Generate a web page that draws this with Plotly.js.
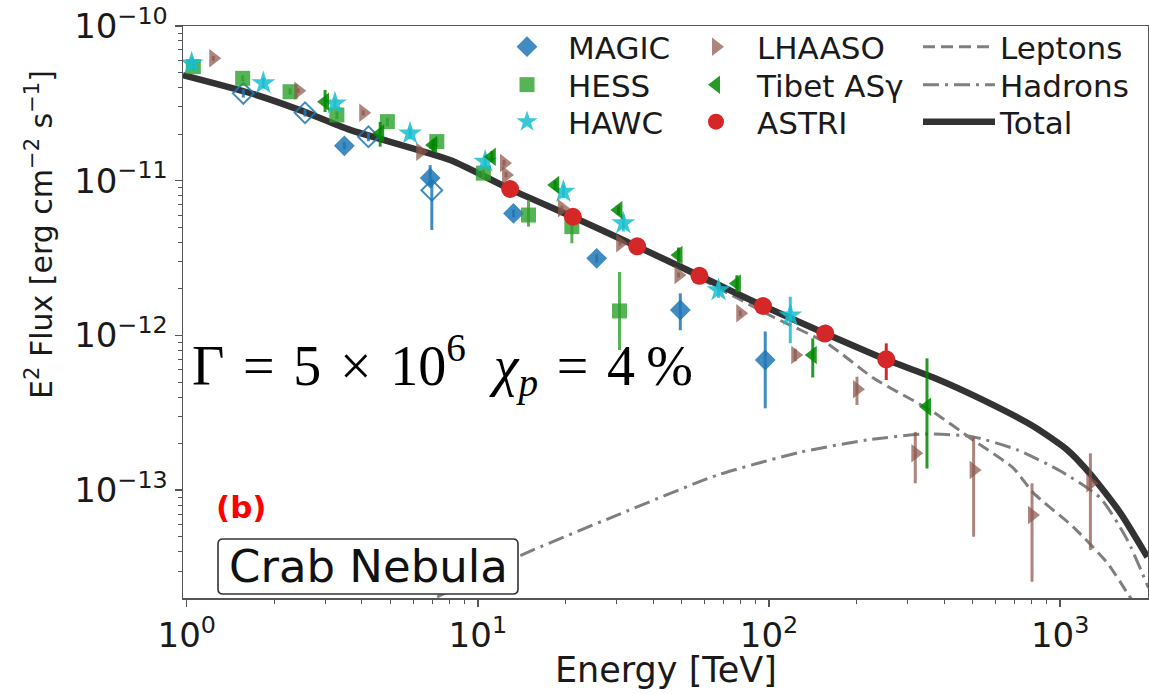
<!DOCTYPE html>
<html><head><meta charset="utf-8">
<script src="https://cdn.plot.ly/plotly-3.0.1.min.js"></script>
<style>html,body{margin:0;padding:0;background:#fff}</style>
</head><body>
<div id="chart" style="width:1149px;height:694px"></div>
<script>
// ---------------- data ----------------
const magicE  = [3.48, 6.86, 13.26, 25.6, 49.6, 97.1];
const magicF  = [1.68e-11, 1.04e-11, 6.15e-12, 3.15e-12, 1.46e-12, 6.94e-13];
const magicUp = [1.78e-11, 1.26e-11, 6.5e-12, 3.35e-12, 1.87e-12, 1.06e-12];
const magicLo = [1.6e-11, 9.3e-12, 5.8e-12, 2.95e-12, 1.08e-12, 3.38e-13];
const magicOpenE  = [1.565, 2.55, 4.21, 6.95];
const magicOpenF  = [3.67e-11, 2.75e-11, 1.925e-11, 8.67e-12];
const magicOpenUp = [3.9e-11, 2.9e-11, 2.05e-11, 1.0e-11];
const magicOpenLo = [3.45e-11, 2.6e-11, 1.8e-11, 4.8e-12];

const hessE  = [1.054, 1.557, 2.265, 3.28, 4.89, 7.23, 10.45, 14.93, 21.04, 30.67];
const hessF  = [5.46e-11, 4.59e-11, 3.76e-11, 2.66e-11, 2.41e-11, 1.79e-11, 1.12e-11, 6.0e-12, 5.05e-12, 1.44e-12];
const hessUp = [5.7e-11, 4.8e-11, 3.95e-11, 2.8e-11, 2.55e-11, 1.9e-11, 1.18e-11, 7.5e-12, 6.15e-12, 2.57e-12];
const hessLo = [5.2e-11, 4.4e-11, 3.6e-11, 2.5e-11, 2.25e-11, 1.65e-11, 1.05e-11, 5.05e-12, 3.94e-12, 8.05e-13];

const hawcE  = [1.04, 1.834, 3.23, 5.85, 10.6, 19.68, 31.6, 67.1, 118.4];
const hawcF  = [5.74e-11, 4.27e-11, 3.16e-11, 2.02e-11, 1.33e-11, 8.49e-12, 5.31e-12, 1.96e-12, 1.35e-12];
const hawcUp = [6.3e-11, 4.6e-11, 3.4e-11, 2.2e-11, 1.45e-11, 9.4e-12, 6.0e-12, 2.2e-12, 1.78e-12];
const hawcLo = [5.2e-11, 3.95e-11, 2.9e-11, 1.85e-11, 1.2e-11, 7.7e-12, 4.7e-12, 1.75e-12, 8.9e-13];

const lhaasoE  = [1.234, 2.418, 4.04, 6.34, 12.3, 12.5, 19.44, 30.83, 48.9, 79.7, 123.1, 200.6, 318.2, 504.7, 801, 1271];
const lhaasoF  = [6.18e-11, 3.82e-11, 2.75e-11, 1.54e-11, 1.30e-11, 1.09e-11, 6.64e-12, 3.94e-12, 2.46e-12, 1.39e-12, 7.47e-13, 4.49e-13, 1.73e-13, 1.35e-13, 6.9e-14, 1.107e-13];
const lhaasoUp = [6.4e-11, 3.95e-11, 2.85e-11, 1.6e-11, 1.36e-11, 1.14e-11, 6.9e-12, 4.1e-12, 2.55e-12, 1.45e-12, 8.2e-13, 5.41e-13, 2.38e-13, 2.21e-13, 1.107e-13, 1.73e-13];
const lhaasoLo = [5.95e-11, 3.7e-11, 2.65e-11, 1.48e-11, 1.25e-11, 1.05e-11, 6.4e-12, 3.8e-12, 2.37e-12, 1.33e-12, 6.8e-13, 3.55e-13, 1.107e-13, 5.0e-14, 2.56e-14, 4.1e-14];

const tibetE  = [2.988, 4.62, 7.02, 11.17, 18.44, 30.4, 48.9, 77.6, 141.4, 349];
const tibetF  = [3.24e-11, 2.02e-11, 1.70e-11, 1.43e-11, 9.38e-12, 6.47e-12, 3.31e-12, 2.17e-12, 7.47e-13, 3.46e-13];
const tibetUp = [3.86e-11, 2.40e-11, 1.85e-11, 1.55e-11, 1.0e-11, 6.9e-12, 3.7e-12, 2.45e-12, 9.57e-13, 7.11e-13];
const tibetLo = [2.78e-11, 1.66e-11, 1.55e-11, 1.32e-11, 8.8e-12, 6.0e-12, 2.95e-12, 1.9e-12, 5.35e-13, 1.38e-13];

const astriE  = [12.91, 21.21, 35.27, 57.7, 95.4, 156.1, 252.9];
const astriF  = [8.84e-12, 5.85e-12, 3.77e-12, 2.43e-12, 1.55e-12, 1.03e-12, 7.01e-13];
const astriUp = [9.3e-12, 6.1e-12, 3.95e-12, 2.55e-12, 1.63e-12, 1.17e-12, 8.89e-13];
const astriLo = [8.4e-12, 5.6e-12, 3.6e-12, 2.3e-12, 1.47e-12, 9.06e-13, 5.15e-13];

const totalE = [0.971, 1.65, 2.45, 3.64, 8.03, 12.91, 21.26, 35.27, 58.05, 95.6, 156.1, 255, 367, 545, 809, 1059, 1271, 1612, 1995];
const totalF = [4.82e-11, 3.69e-11, 2.86e-11, 2.13e-11, 1.36e-11, 8.83e-12, 5.82e-12, 3.76e-12, 2.42e-12, 1.55e-12, 1.03e-12, 6.93e-13, 5.35e-13, 3.82e-13, 2.59e-13, 1.82e-13, 1.27e-13, 7.11e-14, 3.70e-14];

const leptonE = [0.971, 1.65, 2.45, 3.64, 8.03, 12.91, 21.26, 35.27, 58.05, 103.5, 158.6, 228.3, 367, 503.6, 691, 809, 1111, 1454, 1720, 1815];
const leptonF = [4.82e-11, 3.69e-11, 2.86e-11, 2.13e-11, 1.36e-11, 8.8e-12, 5.78e-12, 3.70e-12, 2.33e-12, 1.315e-12, 8.87e-13, 5.31e-13, 3.2e-13, 2.1e-13, 1.39e-13, 9.6e-14, 5.77e-14, 3.38e-14, 2.1e-14, 1.81e-14];

const hadronE = [7.25, 13.65, 30.1, 66.4, 128.3, 217.6, 349.7, 503.6, 713.6, 1002, 1375, 1703, 2012];
const hadronF = [2.04e-14, 3.70e-14, 6.90e-14, 1.25e-13, 1.76e-13, 2.11e-13, 2.31e-13, 2.21e-13, 1.82e-13, 1.33e-13, 8.9e-14, 4.76e-14, 2.33e-14];

const xTickVals = [1, 10, 100, 1000];
const xTickText = ['10<sup>0</sup>', '10<sup>1</sup>', '10<sup>2</sup>', '10<sup>3</sup>'];
const yTickVals = [1e-13, 1e-12, 1e-11, 1e-10];
const yTickText = ['10<sup>\u221213</sup>', '10<sup>\u221212</sup>', '10<sup>\u221211</sup>', '10<sup>\u221210</sup>'];

// ---------------- helpers ----------------
function errs(F, up, lo, color) {
  return {type: 'data', symmetric: false,
    array: F.map((v, i) => up[i] - v),
    arrayminus: F.map((v, i) => v - lo[i]),
    color: color, thickness: 3, width: 0};
}
function pts(name, E, F, up, lo, color, symbol, size, legend, extra) {
  const t = {type: 'scatter', mode: 'markers', name: name, x: E, y: F,
    error_y: errs(F, up, lo, color),
    marker: {color: color, symbol: symbol, size: size, line: {width: 0}},
    legend: legend, legendgroup: name};
  return Object.assign(t, extra || {});
}
const cMagic = 'rgba(31,119,180,0.85)';
const cHess = 'rgba(44,160,44,0.8)';
const cHawc = 'rgba(23,190,207,0.85)';
const cLha = 'rgba(140,86,75,0.72)';
const cTib = 'rgba(0,135,0,0.85)';
const cAst = '#d62728';

const traces = [
  {type: 'scatter', mode: 'lines', name: 'Hadrons', x: hadronE, y: hadronF,
   line: {color: '#7f7f7f', width: 3, dash: '16px,6px,3px,6px', shape: 'spline', smoothing: 0.6},
   legend: 'legend8'},
  {type: 'scatter', mode: 'lines', name: 'Leptons', x: leptonE, y: leptonF,
   line: {color: '#7f7f7f', width: 3, dash: '12px,6px', shape: 'spline', smoothing: 0.6},
   legend: 'legend7'},
  {type: 'scatter', mode: 'lines', name: 'Total', x: totalE, y: totalF,
   line: {color: '#333333', width: 6.5, shape: 'spline', smoothing: 0.6},
   legend: 'legend9'},
  pts('MAGIC', magicE, magicF, magicUp, magicLo, cMagic, 'diamond', 16, 'legend'),
  pts('MAGIC ', magicOpenE, magicOpenF, magicOpenUp, magicOpenLo, cMagic, 'diamond-open', 16, 'legend',
      {showlegend: false, legendgroup: 'MAGIC', marker: {color: cMagic, symbol: 'diamond-open', size: 16, line: {width: 2, color: cMagic}}}),
  pts('HESS', hessE, hessF, hessUp, hessLo, cHess, 'square', 15, 'legend2'),
  pts('HAWC', hawcE, hawcF, hawcUp, hawcLo, cHawc, 'star', 18, 'legend3'),
  pts('LHAASO', lhaasoE, lhaasoF, lhaasoUp, lhaasoLo, cLha, 'triangle-right', 16, 'legend4'),
  pts('Tibet AS\u03b3', tibetE, tibetF, tibetUp, tibetLo, cTib, 'triangle-left', 16, 'legend5'),
  pts('ASTRI', astriE, astriF, astriUp, astriLo, cAst, 'circle', 18, 'legend6')
];

// ---------------- layout ----------------
const L = 183, R = 1148, T = 26, B = 598;
const px = v => (v - L) / (R - L);
const py = v => (B - v) / (B - T);

function minorVals(decades) {
  const out = [];
  decades.forEach(d => { for (let k = 2; k <= 9; k++) out.push(k * d); });
  return out;
}
const axisCommon = {
  type: 'log', showgrid: false, zeroline: false,
  showline: true, linecolor: '#555', linewidth: 1.5, mirror: true,
  ticks: 'outside', ticklen: 7, tickwidth: 1.5, tickcolor: '#555',
  tickmode: 'array', tickfont: {size: 34, color: '#1a1a1a', family: 'DejaVu Sans'}
};
const bx0 = px(218), bx1 = px(518), by0 = py(594), by1 = py(539);
const rx = 5 / (R - L), ry = 5 / (B - T);
const boxPath = `M${bx0 + rx},${by0} L${bx1 - rx},${by0} Q${bx1},${by0} ${bx1},${by0 + ry} ` +
  `L${bx1},${by1 - ry} Q${bx1},${by1} ${bx1 - rx},${by1} L${bx0 + rx},${by1} ` +
  `Q${bx0},${by1} ${bx0},${by1 - ry} L${bx0},${by0 + ry} Q${bx0},${by0} ${bx0 + rx},${by0} Z`;

function leg(xLeft, rowTop) {
  return {xanchor: 'left', yanchor: 'top', x: px(xLeft), y: py(rowTop), bgcolor: 'rgba(0,0,0,0)',
    font: {size: 31, family: 'DejaVu Sans', color: '#1a1a1a'}, itemwidth: 72};
}
const colX = [486, 675, 918];
const rowTop = [20, 58, 95];

const layout = {
  width: 1149, height: 694,
  margin: {l: L, r: 1149 - R, t: T, b: 694 - B, pad: 0},
  paper_bgcolor: '#ffffff', plot_bgcolor: '#ffffff',
  font: {family: 'DejaVu Sans', color: '#1a1a1a'},
  showlegend: true,
  xaxis: Object.assign({}, axisCommon, {
    range: [-0.0127, 3.302], tickvals: xTickVals, ticktext: xTickText,
    minor: {tickmode: 'array', tickvals: minorVals([1, 10, 100]), ticks: 'outside', ticklen: 4, tickwidth: 1, tickcolor: '#555', showgrid: false}
  }),
  yaxis: Object.assign({}, axisCommon, {
    range: [-13.697, -10.0], tickvals: yTickVals, ticktext: yTickText,
    minor: {tickmode: 'array', tickvals: minorVals([1e-14, 1e-13, 1e-12, 1e-11]), ticks: 'outside', ticklen: 4, tickwidth: 1, tickcolor: '#555', showgrid: false}
  }),
  legend: leg(colX[0], rowTop[0]),
  legend2: leg(colX[0], rowTop[1]),
  legend3: leg(colX[0], rowTop[2]),
  legend4: leg(colX[1], rowTop[0]),
  legend5: leg(colX[1], rowTop[1]),
  legend6: leg(colX[1], rowTop[2]),
  legend7: leg(colX[2], rowTop[0]),
  legend8: leg(colX[2], rowTop[1]),
  legend9: leg(colX[2], rowTop[2]),
  shapes: [{type: 'path', xref: 'paper', yref: 'paper', path: boxPath,
    line: {color: '#333', width: 1.6}, fillcolor: '#ffffff', layer: 'above'}],
  annotations: [
    {xref: 'paper', yref: 'paper', x: px(665.5), y: py(670), xanchor: 'center', yanchor: 'middle',
     showarrow: false, text: 'Energy [TeV]', font: {size: 35, family: 'DejaVu Sans', color: '#1a1a1a'}},
    {xref: 'paper', yref: 'paper', x: px(39), y: py(235), xanchor: 'center', yanchor: 'middle',
     showarrow: false, textangle: -90,
     text: 'E<sup>2</sup> Flux [erg cm<sup>\u22122</sup> s<sup>\u22121</sup>]',
     font: {size: 30, family: 'DejaVu Sans', color: '#1a1a1a'}},
    {xref: 'paper', yref: 'paper', x: px(190), y: py(365), xanchor: 'left', yanchor: 'middle',
     showarrow: false,
     text: '\u0393\u2004=\u20045\u2004\u00d7\u200410<sup>6</sup>\u00a0\u00a0<i>\u03c7<sub>p</sub></i>\u2004=\u20044\u2009%',
     font: {size: 56, family: 'Liberation Serif', color: '#000'}},
    {xref: 'paper', yref: 'paper', x: px(241), y: py(507), xanchor: 'center', yanchor: 'middle',
     showarrow: false, text: '<b>(b)</b>', font: {size: 31, family: 'DejaVu Sans', color: '#ff0000'}},
    {xref: 'paper', yref: 'paper', x: px(368), y: py(566), xanchor: 'center', yanchor: 'middle',
     showarrow: false, text: 'Crab Nebula', font: {size: 45, family: 'DejaVu Sans', color: '#111'}}
  ]
};

Plotly.newPlot('chart', traces, layout, {displayModeBar: false, staticPlot: true});
</script>
</body></html>
